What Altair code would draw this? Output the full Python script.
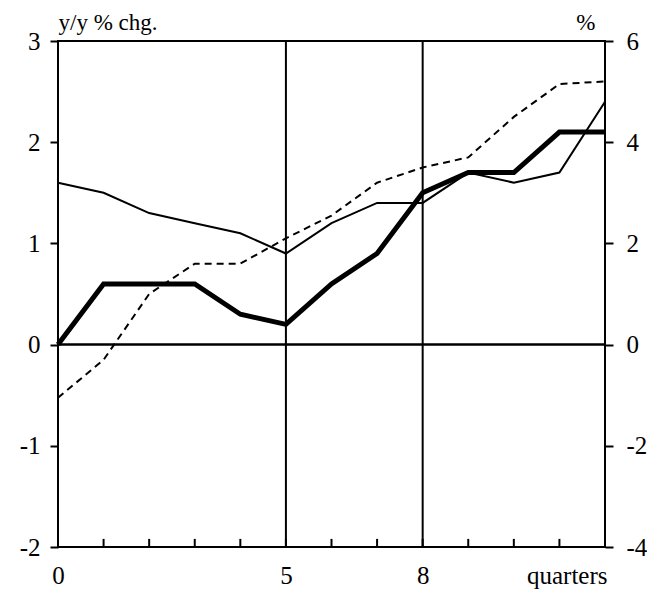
import altair as alt
import pandas as pd

quarters = list(range(13))
thick_yy = [0.0, 0.6, 0.6, 0.6, 0.3, 0.2, 0.6, 0.9, 1.5, 1.7, 1.7, 2.1, 2.1]
thin_yy = [1.6, 1.5, 1.3, 1.2, 1.1, 0.9, 1.2, 1.4, 1.4, 1.7, 1.6, 1.7, 2.4]
dashed_pct = [-1.05, -0.3, 1.0, 1.6, 1.6, 2.1, 2.55, 3.2, 3.5, 3.7, 4.5, 5.15, 5.2]
left_ticks = [-2, -1, 0, 1, 2, 3]
right_ticks = [-4, -2, 0, 2, 4, 6]
x_labels = [0, 5, 8, 12]
marker_quarters = [5, 8]
minor_quarters = list(range(1, 12))

df = pd.DataFrame({"q": quarters, "thick": thick_yy, "thin": thin_yy, "dashed": dashed_pct})
df_mark = pd.DataFrame({"q": marker_quarters})
df_minor = pd.DataFrame({"q": minor_quarters})

FONT = "Liberation Serif"
FS = 25
TFS = 23

xs = alt.Scale(domain=[0, 12], nice=False, zero=False)
ys_left = alt.Scale(domain=[-2, 3], nice=False, zero=False)
ys_right = alt.Scale(domain=[-4, 6], nice=False, zero=False)

xaxis = alt.Axis(
    values=x_labels,
    labelExpr="datum.value == 12 ? 'quarters' : toString(datum.value)",
    labelAlign={"condition": {"test": "datum.value == 12", "value": "right"}, "value": "center"},
    labelOffset={"condition": {"test": "datum.value == 12", "value": 2}, "value": 0},
    labelFont=FONT, labelFontSize=FS, labelColor="black", labelPadding=16,
    labelBaseline="top", labelFlush=False, labelOverlap=False,
    domain=False, ticks=False, grid=False, title=None,
)

left_axis = alt.Axis(
    values=left_ticks, labelExpr="toString(datum.value)",
    labelFont=FONT, labelFontSize=FS, labelColor="black", labelPadding=10,
    tickSize=8, tickWidth=2, tickColor="black", domain=False, grid=False,
    title="y/y % chg.", titleAngle=0, titleAlign="left", titleBaseline="alphabetic",
    titleX=0, titleY=-12, titleFont=FONT, titleFontSize=TFS, titleFontWeight="normal",
    titleColor="black",
)

right_axis = alt.Axis(
    orient="right", values=right_ticks, labelExpr="toString(datum.value)",
    labelFont=FONT, labelFontSize=FS, labelColor="black", labelPadding=13,
    tickSize=8, tickWidth=2, tickColor="black", domain=False, grid=False,
    title="%", titleAngle=0, titleAlign="right", titleBaseline="alphabetic",
    titleX=-10, titleY=-12, titleFont=FONT, titleFontSize=TFS, titleFontWeight="normal",
    titleColor="black",
)

vlines = alt.Chart(df_mark).mark_rule(color="black", strokeWidth=2).encode(
    x=alt.X("q:Q", scale=xs, axis=xaxis)
)
zero = alt.Chart(df_mark).mark_rule(color="black", strokeWidth=2).encode(
    y=alt.datum(0, scale=ys_left, axis=left_axis)
)
minor = alt.Chart(df_minor).mark_rule(color="black", strokeWidth=2).encode(
    x=alt.X("q:Q", scale=xs, axis=xaxis),
    y=alt.datum(-2, scale=ys_left, axis=left_axis),
    y2=alt.datum(-1.92),
)
thin = alt.Chart(df).mark_line(color="black", strokeWidth=2).encode(
    x=alt.X("q:Q", scale=xs, axis=xaxis),
    y=alt.Y("thin:Q", scale=ys_left, axis=left_axis),
)
thick = alt.Chart(df).mark_line(color="black", strokeWidth=5).encode(
    x=alt.X("q:Q", scale=xs, axis=xaxis),
    y=alt.Y("thick:Q", scale=ys_left, axis=left_axis),
)
left = alt.layer(vlines, zero, minor, thin, thick)

dashed = alt.Chart(df).mark_line(color="black", strokeWidth=2, strokeDash=[7, 5]).encode(
    x=alt.X("q:Q", scale=xs, axis=xaxis),
    y=alt.Y("dashed:Q", scale=ys_right, axis=right_axis),
)

chart = alt.layer(left, dashed).resolve_scale(y="independent").properties(
    width=547, height=506,
    autosize=alt.AutoSizeParams(type="none"),
    padding={"left": 50, "top": 33, "right": 42, "bottom": 46},
    background="white",
).configure_view(stroke="black", strokeWidth=2)

chart.save("out.html", embed_options={"renderer": "svg", "actions": False})
